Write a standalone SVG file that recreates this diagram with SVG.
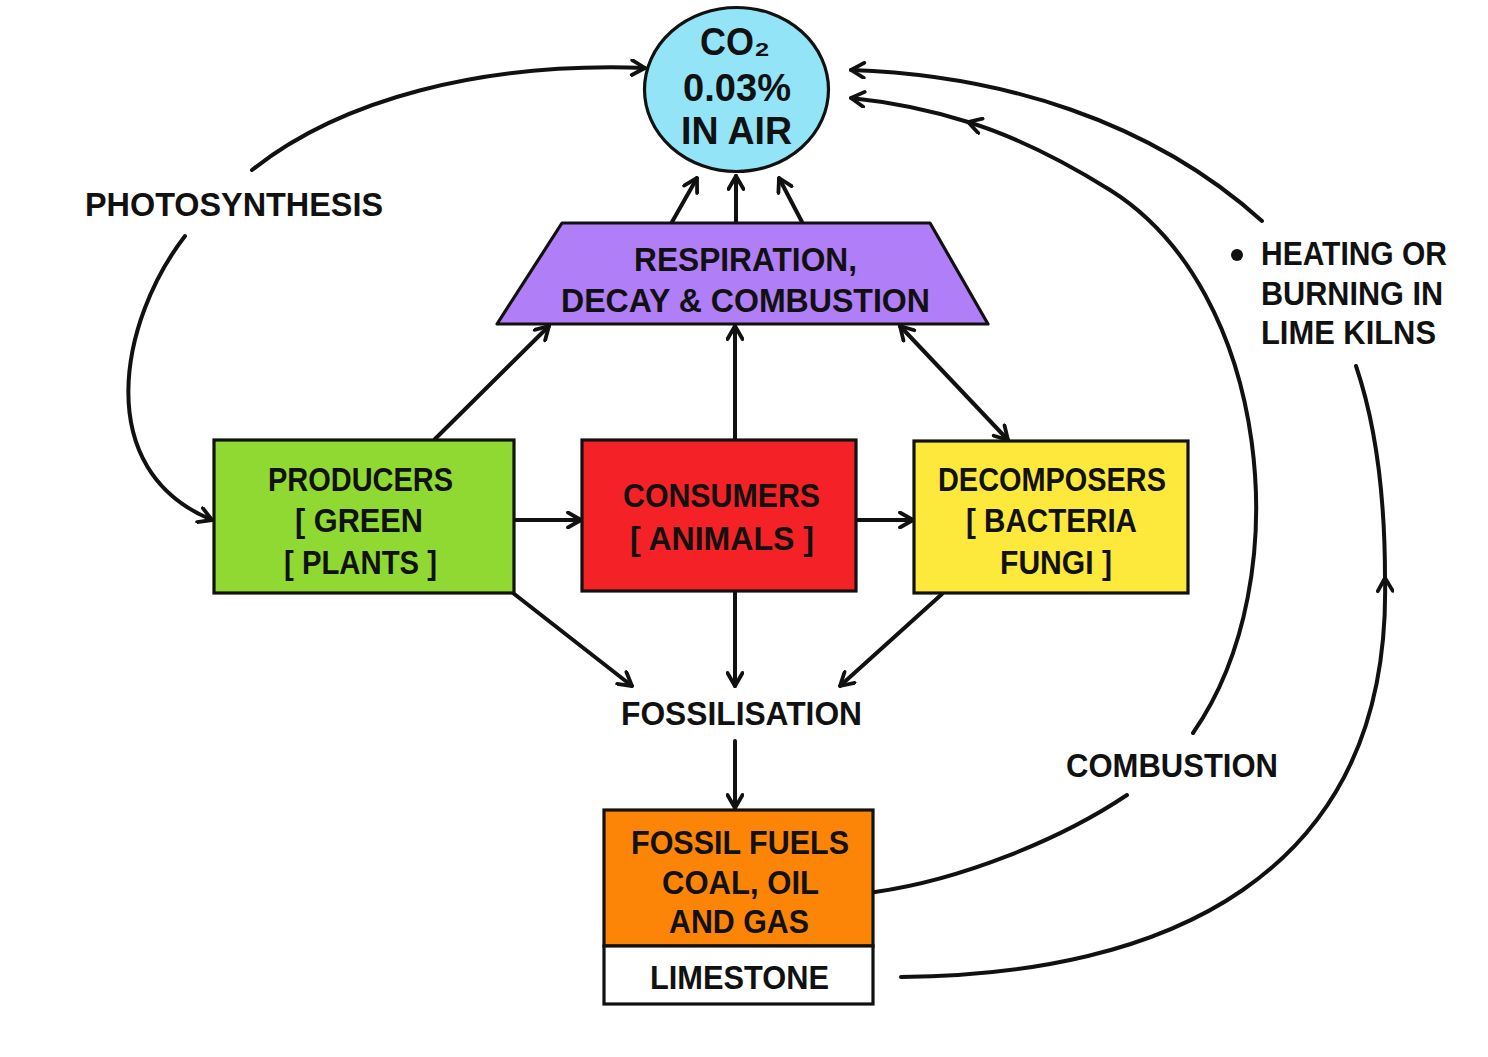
<svg xmlns="http://www.w3.org/2000/svg" width="1488" height="1057" viewBox="0 0 1488 1057">
<defs>
<marker id="ah" viewBox="0 0 18 18" refX="16" refY="9" markerWidth="18" markerHeight="18" markerUnits="userSpaceOnUse" orient="auto-start-reverse">
<path d="M3,1.5 L16,9 L3,16.5" fill="none" stroke="#111" stroke-width="3.8" stroke-linecap="round" stroke-linejoin="round"/>
</marker>
<style>
.t{font-family:"Liberation Sans","DejaVu Sans",sans-serif;font-size:34px;fill:#111;font-weight:bold}
.big{font-size:38px}
.box{stroke:#111;stroke-width:3.2}
.c{fill:none;stroke:#111;stroke-width:4;stroke-linecap:round}
.a{marker-end:url(#ah)}
.d{marker-start:url(#ah);marker-end:url(#ah)}
</style>
</defs>
<rect width="1488" height="1057" fill="#fff"/>

<g id="connectors">
<path class="c a" d="M252,170 C340,100 480,62 645,68"/>
<path class="c a" d="M185,236 C120,320 90,470 212,520"/>
<path class="c a" d="M672,222 L697,178"/>
<path class="c a" d="M736,222 L736,176"/>
<path class="c a" d="M802,222 L779,178"/>
<path class="c a" d="M435,439 L549,326"/>
<path class="c a" d="M735,439 L735,326"/>
<path class="c d" d="M900,326 L1008,440"/>
<path class="c a" d="M515,520 L581,520"/>
<path class="c a" d="M856,520 L913,520"/>
<path class="c a" d="M513,593 L632,686"/>
<path class="c a" d="M735,592 L735,686"/>
<path class="c a" d="M942,594 L840,686"/>
<path class="c a" d="M735,741 L735,808"/>
<path class="c a" d="M1193,733 C1300,580 1270,290 1110,190 C1070,165 1020,138 968,122"/>
<path class="c a" d="M968,122 C930,110 890,102 851,98"/>
<path class="c" d="M875,892 C960,880 1060,840 1127,795"/>
<path class="c a" d="M1262,221 C1150,120 1000,75 851,70"/>
<path class="c a" d="M901,977 C1160,975 1392,880 1385,578"/>
<path class="c" d="M1385,578 C1385,500 1376,425 1356,366"/>
</g>

<g id="co2">
<ellipse cx="736.5" cy="89.5" rx="92" ry="82" fill="#92e4f6" class="box"/>
<text class="t big" x="700" y="55" textLength="70" lengthAdjust="spacingAndGlyphs">CO₂</text>
<text class="t big" x="683" y="101" textLength="108" lengthAdjust="spacingAndGlyphs">0.03%</text>
<text class="t big" x="681" y="144" textLength="111" lengthAdjust="spacingAndGlyphs">IN AIR</text>
</g>

<g id="respiration">
<polygon points="562,223 930,223 988,324 497,324" fill="#b07ef6" class="box" stroke-linejoin="round"/>
<text class="t" x="634" y="271" textLength="223" lengthAdjust="spacingAndGlyphs">RESPIRATION,</text>
<text class="t" x="561" y="312" textLength="369" lengthAdjust="spacingAndGlyphs">DECAY &amp; COMBUSTION</text>
</g>

<g id="producers">
<rect x="214" y="440" width="300" height="153" fill="#8fd932" class="box"/>
<text class="t" x="268" y="491" textLength="185" lengthAdjust="spacingAndGlyphs">PRODUCERS</text>
<text class="t" x="295" y="532" textLength="128" lengthAdjust="spacingAndGlyphs">[ GREEN</text>
<text class="t" x="284" y="574" textLength="153" lengthAdjust="spacingAndGlyphs">[ PLANTS ]</text>
</g>

<g id="consumers">
<rect x="582" y="440" width="274" height="151" fill="#f42227" class="box"/>
<text class="t" x="623" y="507" textLength="197" lengthAdjust="spacingAndGlyphs">CONSUMERS</text>
<text class="t" x="630" y="550" textLength="184" lengthAdjust="spacingAndGlyphs">[ ANIMALS ]</text>
</g>

<g id="decomposers">
<rect x="914" y="441" width="274" height="152" fill="#fce93c" class="box"/>
<text class="t" x="938" y="491" textLength="228" lengthAdjust="spacingAndGlyphs">DECOMPOSERS</text>
<text class="t" x="966" y="532" textLength="171" lengthAdjust="spacingAndGlyphs">[ BACTERIA</text>
<text class="t" x="1000" y="574" textLength="112" lengthAdjust="spacingAndGlyphs">FUNGI ]</text>
</g>

<g id="fossilisation">
<text class="t" x="621" y="725" textLength="241" lengthAdjust="spacingAndGlyphs">FOSSILISATION</text>
</g>

<g id="fossil-fuels">
<rect x="604" y="810" width="269" height="136" fill="#fc8508" class="box"/>
<text class="t" x="631" y="854" textLength="218" lengthAdjust="spacingAndGlyphs">FOSSIL FUELS</text>
<text class="t" x="662" y="894" textLength="157" lengthAdjust="spacingAndGlyphs">COAL, OIL</text>
<text class="t" x="669" y="933" textLength="140" lengthAdjust="spacingAndGlyphs">AND GAS</text>
</g>

<g id="limestone">
<rect x="604" y="946" width="269" height="58" fill="#fff" class="box"/>
<text class="t" x="650" y="989" textLength="179" lengthAdjust="spacingAndGlyphs">LIMESTONE</text>
</g>

<g id="photosynthesis">
<text class="t" x="85" y="216" textLength="298" lengthAdjust="spacingAndGlyphs">PHOTOSYNTHESIS</text>
</g>

<g id="combustion">
<text class="t" x="1066" y="777" textLength="212" lengthAdjust="spacingAndGlyphs">COMBUSTION</text>
</g>

<g id="heating">
<circle cx="1237" cy="255" r="6" fill="#111"/>
<text class="t" x="1261" y="265" textLength="186" lengthAdjust="spacingAndGlyphs">HEATING OR</text>
<text class="t" x="1261" y="305" textLength="182" lengthAdjust="spacingAndGlyphs">BURNING IN</text>
<text class="t" x="1261" y="344" textLength="175" lengthAdjust="spacingAndGlyphs">LIME KILNS</text>
</g>
</svg>
